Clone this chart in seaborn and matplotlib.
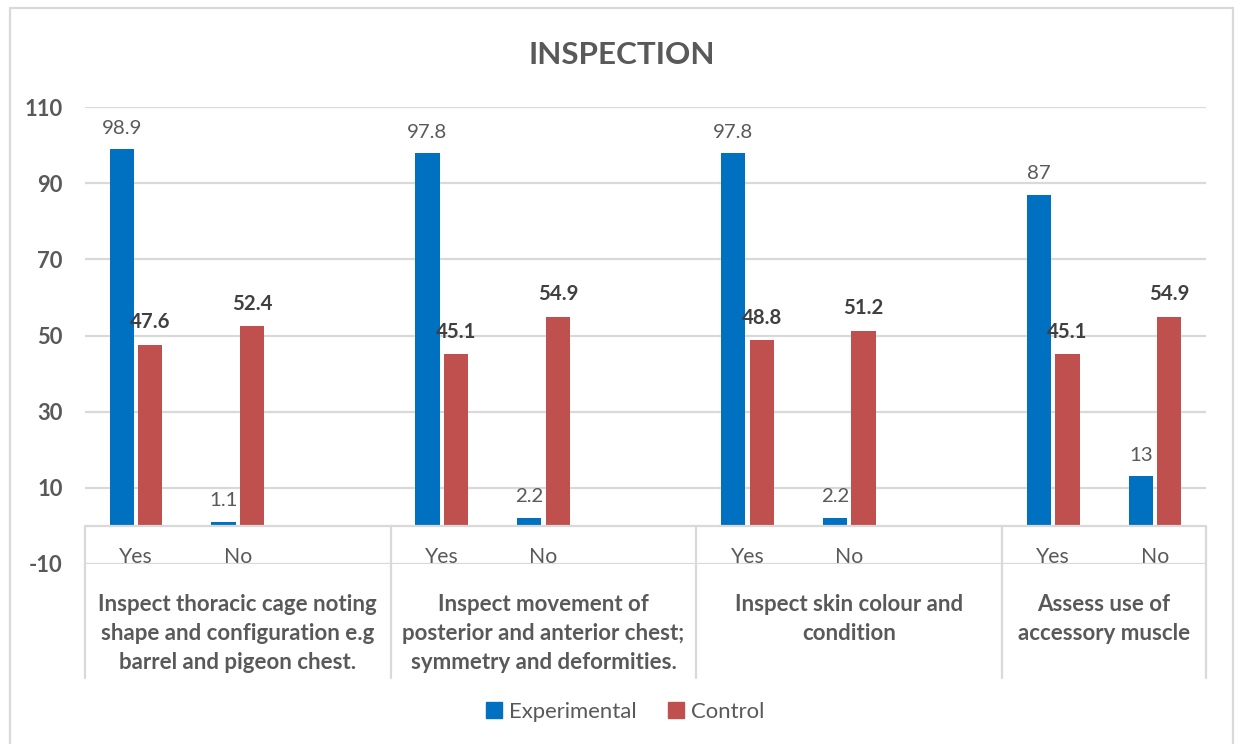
import numpy as np
import pandas as pd
import matplotlib
matplotlib.use("Agg")
import matplotlib.pyplot as plt
import seaborn as sns
from matplotlib.patches import Patch, Rectangle
from matplotlib.lines import Line2D
from matplotlib.transforms import blended_transform_factory

# ---------------- data ----------------
title = "INSPECTION"
groups = [
    "Inspect thoracic cage noting\nshape and configuration e.g\nbarrel and pigeon chest.",
    "Inspect movement of\nposterior and anterior chest;\nsymmetry and deformities.",
    "Inspect skin colour and\ncondition",
    "Assess use of\naccessory muscle",
]
responses = ["Yes", "No"]
series = ["Experimental", "Control"]
experimental = [98.9, 1.1, 97.8, 2.2, 97.8, 2.2, 87, 13]
control = [47.6, 52.4, 45.1, 54.9, 48.8, 51.2, 45.1, 54.9]
yticks = [-10, 10, 30, 50, 70, 90, 110]
colors = ["#0070C0", "#C0504D"]

GRAY = "#595959"
GRID = "#d9d9d9"

sns.set_theme(style="white")
plt.rcParams["font.family"] = ["Lato", "DejaVu Sans"]

# category slots (an empty slot between groups, as in the original)
order = []
group_slots = []
for gi in range(len(groups)):
    start = len(order)
    for r in responses:
        order.append(f"{gi}-{r}")
    group_slots.append((start, len(order) - 1))
    if gi < len(groups) - 1:
        order.append(f"{gi}-gap")

rows = []
k = 0
for gi in range(len(groups)):
    for r in responses:
        rows.append((f"{gi}-{r}", series[0], experimental[k]))
        rows.append((f"{gi}-{r}", series[1], control[k]))
        k += 1
df = pd.DataFrame(rows, columns=["slot", "series", "value"])

W, H = 1241, 744
fig = plt.figure(figsize=(W / 100, H / 100), dpi=100)
ax = fig.add_axes([85 / W, 1 - 564 / H, (1206 - 85) / W, (564 - 107) / H])

sns.barplot(data=df, x="slot", y="value", hue="series", order=order,
            hue_order=series, palette=colors, width=0.56, gap=0.15,
            linewidth=0, saturation=1, legend=False, errorbar=None, ax=ax)

ax.set_xlim(-0.5, len(order) - 0.5)
ax.set_ylim(-10, 110)
ax.set_yticks(yticks)
ax.set_yticklabels([str(t) for t in yticks], fontsize=15.8, fontweight="bold", color=GRAY)
ax.tick_params(axis="y", length=0, pad=16)
ax.set_xticks([])
ax.set_xlabel("")
ax.set_ylabel("")
for s in ax.spines.values():
    s.set_visible(False)
ax.set_axisbelow(True)
ax.grid(axis="y", color=GRID, lw=1.6)
ax.axhline(0, color=GRID, lw=1.6, zorder=3)

# value labels
for ci, cont in enumerate(ax.containers):
    ax.bar_label(cont, fmt="{:g}", padding=9, fontsize=14.7,
                 fontweight="normal" if ci == 0 else "bold",
                 color=GRAY if ci == 0 else "#404040")

# multi-level category axis
tr = blended_transform_factory(ax.transData, ax.transAxes)
y0 = (0 + 10) / 120
y_end = (564 - 678) / 457
bounds = [group_slots[0][0] - 0.5] + [group_slots[i + 1][0] - 0.5
                                      for i in range(len(groups) - 1)] + [len(order) - 0.5]
for b in bounds:
    ax.add_line(Line2D([b, b], [y0, y_end], transform=tr, color=GRID, lw=1.6, clip_on=False))

y_resp = (564 - 557) / 457
y_grp = (564 - 594) / 457
for gi, (s, e) in enumerate(group_slots):
    for j, r in enumerate(responses):
        ax.text(s + j, y_resp, r, transform=tr, ha="center", va="center",
                fontsize=15.3, color=GRAY)
    left = bounds[gi]
    right = bounds[gi + 1]
    ax.text((left + right) / 2, y_grp, groups[gi], transform=tr, ha="center", va="top",
            fontsize=16, fontweight="bold", color=GRAY, linespacing=1.47)

# title
fig.text(622 / W, 1 - 55 / H, title, ha="center", va="center", fontsize=22.6,
         fontweight="bold", color=GRAY)

# legend
handles = [Patch(color=c, label=s) for c, s in zip(colors, series)]
fig.legend(handles=handles, loc="center", bbox_to_anchor=(625 / W, 1 - 712 / H), ncol=2,
           frameon=False, fontsize=15.9, handlelength=0.75, handleheight=0.75,
           handletextpad=0.3, columnspacing=1.4, labelcolor=GRAY)

# chart border
fig.add_artist(Rectangle((10 / W, -0.01), (1233 - 10) / W, (744 - 8) / H + 0.01,
                         transform=fig.transFigure, fill=False, ec=GRID, lw=1.6))

fig.savefig("out.png", dpi=100)
